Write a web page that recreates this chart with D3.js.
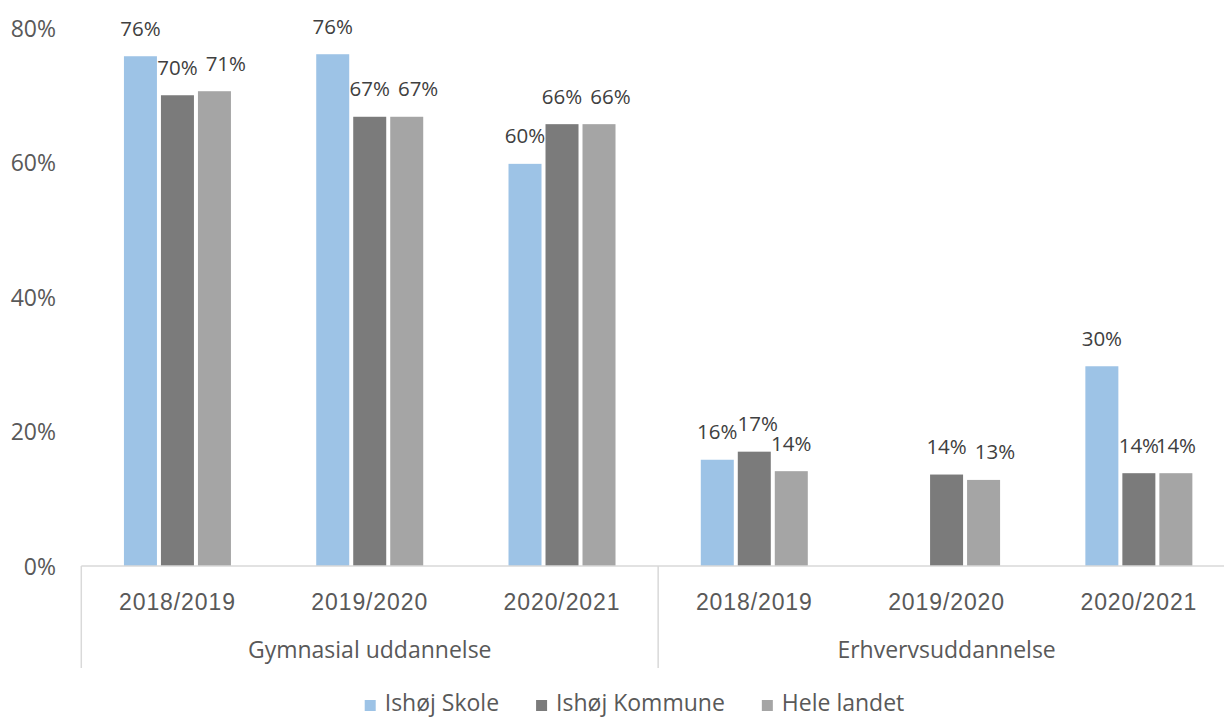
<!DOCTYPE html>
<html>
<head>
<meta charset="utf-8">
<script src="https://cdn.jsdelivr.net/npm/d3@7"></script>
<style>
  html, body { margin: 0; padding: 0; background: #ffffff; }
  svg { display: block; font-family: "Open Sans", sans-serif; }
</style>
</head>
<body>
<svg id="chart" width="1224" height="717"></svg>
<script>
// ---- Data ----
const groups = ["Gymnasial uddannelse", "Erhvervsuddannelse"];
const years = ["2018/2019", "2019/2020", "2020/2021"];
const seriesNames = ["Ishøj Skole", "Ishøj Kommune", "Hele landet"];
const seriesColors = ["#9DC3E6", "#7B7B7B", "#A5A5A5"];
// values per category: Gym 2018, Gym 2019, Gym 2020, Erhv 2018, Erhv 2019, Erhv 2020
const ishojSkole    = [0.758, 0.761, 0.598, 0.158, null,  0.297];
const ishojKommune  = [0.700, 0.668, 0.657, 0.170, 0.136, 0.138];
const heleLandet    = [0.706, 0.668, 0.657, 0.141, 0.128, 0.138];
const yTicks = [0, 0.2, 0.4, 0.6, 0.8];

const seriesValues = [ishojSkole, ishojKommune, heleLandet];
const categories = [];
groups.forEach(g => years.forEach(y => categories.push({group: g, year: y, key: g + "|" + y})));

// ---- Layout ----
const svg = d3.select("#chart");
const plotLeft = 81.3, plotRight = 1235, axisY = 566, topY = 28;
const x0 = d3.scaleBand().domain(categories.map(c => c.key)).range([plotLeft, plotRight]).padding(0);
const x1 = d3.scaleBand().domain(seriesNames).range([-53.5, 53.5]).paddingInner(4 / 37).paddingOuter(0);
const y = d3.scaleLinear().domain([0, 0.8]).range([axisY, topY]);
const fmt = d3.format(".0%");
const axisColor = "#595959";
const fontSize = 23;
const labelSize = 20.5;

// ---- Y axis labels (no line, no grid) ----
const yAxis = d3.axisLeft(y).tickValues(yTicks).tickFormat(fmt).tickSize(0).tickPadding(0);
const yg = svg.append("g").attr("transform", "translate(56,0)").call(yAxis);
yg.select(".domain").remove();
yg.selectAll("text").attr("font-size", fontSize).attr("fill", axisColor)
  .attr("font-family", "Open Sans").attr("dy", "0.36em");

// ---- Bars ----
const barData = [];
categories.forEach((c, ci) => {
  seriesNames.forEach((s, si) => {
    const v = seriesValues[si][ci];
    if (v !== null) barData.push({cat: c.key, ci, series: s, si, v});
  });
});
const bx = d => x0(d.cat) + x0.bandwidth() / 2 + x1(d.series);
svg.append("g").selectAll("rect").data(barData).enter().append("rect")
  .attr("x", bx)
  .attr("y", d => y(d.v))
  .attr("width", x1.bandwidth())
  .attr("height", d => y(0) - y(d.v))
  .attr("fill", d => seriesColors[d.si]);

// data labels
const labels = svg.append("g").selectAll("text").data(barData).enter().append("text")
  .attr("x", d => bx(d) + x1.bandwidth() / 2)
  .attr("y", d => y(d.v) - 28)
  .attr("dy", "0.36em")
  .attr("text-anchor", "middle")
  .attr("font-size", labelSize)
  .attr("fill", "#404040")
  .text(d => fmt(d.v));

// simple collision avoidance: push a label right when it collides with its left neighbour
const nodes = labels.nodes();
for (let i = 1; i < nodes.length; i++) {
  const a = barData[i - 1], b = barData[i];
  if (a.ci !== b.ci || b.ci === 5) continue;
  const dyPx = Math.abs(y(a.v) - y(b.v));
  let minGap;
  if (dyPx < 6) minGap = 8;
  else if (dyPx < 15) minGap = 0;
  else continue;
  const na = nodes[i - 1], nb = nodes[i];
  const wa = na.getComputedTextLength(), wb = nb.getComputedTextLength();
  const rightA = +na.getAttribute("x") + wa / 2;
  const leftB = +nb.getAttribute("x") - wb / 2;
  if (leftB < rightA + minGap) {
    nb.setAttribute("x", +nb.getAttribute("x") + (rightA + minGap - leftB));
  }
}

// ---- X axis ----
const lineColor = "#D9D9D9";
svg.append("line").attr("x1", plotLeft).attr("x2", plotRight)
  .attr("y1", axisY).attr("y2", axisY).attr("stroke", lineColor).attr("stroke-width", 1.5);

const xAxis = d3.axisBottom(x0).tickSize(0).tickPadding(0).tickFormat(k => k.split("|")[1]);
const xg = svg.append("g").attr("transform", "translate(0," + axisY + ")").call(xAxis);
xg.select(".domain").remove();
xg.selectAll("text").attr("font-size", fontSize).attr("fill", axisColor)
  .attr("letter-spacing", 0.9)
  .attr("y", 44).attr("dy", 0);

// group separators
const sepX = [plotLeft, x0(categories[3].key), plotRight];
svg.append("g").selectAll("line").data(sepX).enter().append("line")
  .attr("x1", d => d).attr("x2", d => d)
  .attr("y1", axisY).attr("y2", 668)
  .attr("stroke", lineColor).attr("stroke-width", 1.5);

// group labels
svg.append("g").selectAll("text").data(groups).enter().append("text")
  .attr("x", (g, i) => (sepX[i] + sepX[i + 1]) / 2)
  .attr("y", 658)
  .attr("text-anchor", "middle")
  .attr("font-size", fontSize)
  .attr("fill", axisColor)
  .text(g => g);

// ---- Legend ----
const legend = svg.append("g");
const items = legend.selectAll("g").data(seriesNames).enter().append("g");
items.append("rect").attr("width", 11).attr("height", 11).attr("y", 700)
  .attr("fill", (d, i) => seriesColors[i]);
items.append("text").attr("x", 20).attr("y", 711)
  .attr("font-size", fontSize).attr("fill", axisColor).text(d => d);
const widths = [];
items.each(function () { widths.push(this.querySelector("text").getComputedTextLength()); });
const gap = 37;
const total = widths.reduce((a, w) => a + 20 + w, 0) + gap * (widths.length - 1);
let start = 634.5 - total / 2;
items.attr("transform", (d, i) => {
  const t = "translate(" + start + ",0)";
  start += 20 + widths[i] + gap;
  return t;
});
</script>
</body>
</html>
